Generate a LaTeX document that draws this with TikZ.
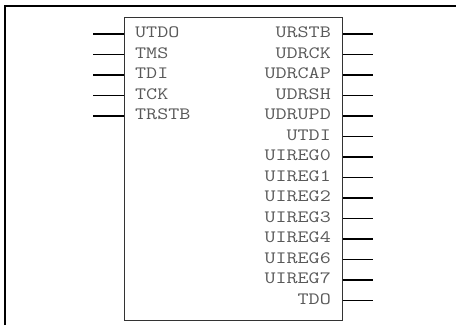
\documentclass[tikz,border=0pt]{standalone}
\usepackage{fontspec}
\newcommand{\pinlabel}[1]{\scalebox{1.24}[1]{#1}}

\begin{document}
\begin{tikzpicture}[x=1pt, y=-1pt,
	pin/.style={line width=1.3pt},
	lbl/.style={font=\ttfamily\fontsize{17.3}{17.3}\selectfont, text=black!65, inner sep=0pt}]
	\useasboundingbox (0,0) rectangle (456,325);
	\draw [line width=2pt] (5,325) -- (5,6) -- (456,6);
	\node [draw=black!80, line width=1.3pt, minimum width=218pt, minimum height=303pt,
		anchor=north west, inner sep=0pt] (chip) at (124,17) {};
	\foreach \name [count=\i from 0] in {UTDO, TMS, TDI, TCK, TRSTB} {
		\coordinate (l\i) at (93, 34+20.5*\i);
		\draw [pin] (l\i) -- (l\i -| chip.west);
		\node [lbl, anchor=base west] (ln\i) at (135, 37.5+20.5*\i) {\pinlabel{\name}};
	}
	\foreach \name [count=\i from 0] in {URSTB, UDRCK, UDRCAP, UDRSH, UDRUPD, UTDI,
		UIREG0, UIREG1, UIREG2, UIREG3, UIREG4, UIREG6, UIREG7, TDO} {
		\coordinate (r\i) at (373, 34+20.5*\i);
		\draw [pin] (r\i -| chip.east) -- (r\i);
		\node [lbl, anchor=base east] (rn\i) at (331, 37.5+20.5*\i) {\pinlabel{\name}};
	}
\end{tikzpicture}
\end{document}
